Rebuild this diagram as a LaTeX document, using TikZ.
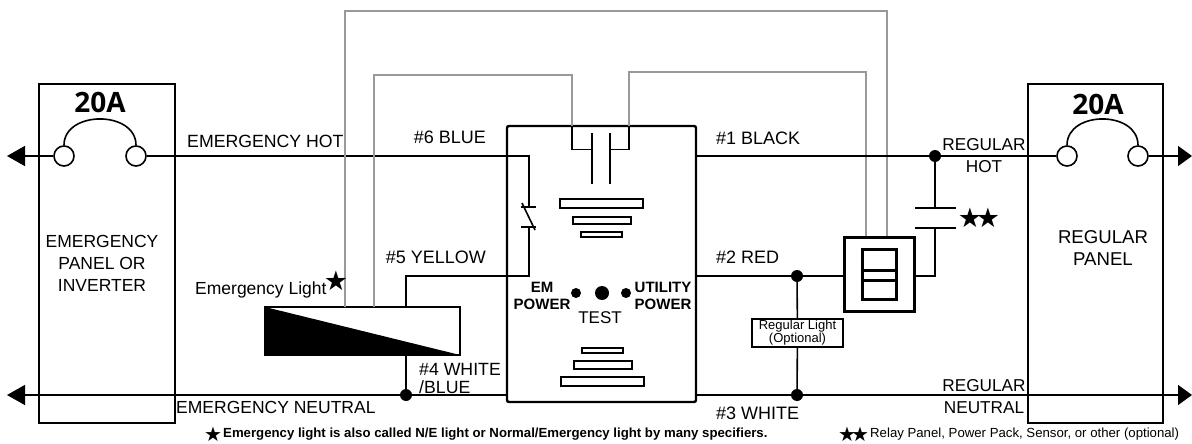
\documentclass[tikz,border=0pt]{standalone}
\usepackage{fontspec}
\setmainfont{Liberation Sans}
\newfontfamily\symfont{DejaVu Sans}
\newfontfamily\ampfont{Open Sans}
\usetikzlibrary{arrows.meta}

\tikzset{
    wire/.style={line width=1.6pt,black},
    relayline/.style={line width=1.6pt,black!40},
    feed/.style={wire,-{Triangle[length=18pt,width=20pt]},shorten >=0pt},
    regfeed/.style={wire,-{Triangle[length=14pt,width=20pt]},shorten >=0pt},
    panel/.style={draw,line width=1.8pt,minimum width=136pt,minimum height=339pt,inner sep=0pt},
    breaker/.style={circle,draw,fill=white,line width=1.6pt,minimum size=20pt,inner sep=0pt},
    junction/.style={circle,fill=black,minimum size=12pt,inner sep=0pt},
    led/.style={circle,fill=black,inner sep=0pt},
    gauge/.style={draw,fill=white,line width=1.5pt,inner sep=0pt},
    lbl/.style={inner sep=0pt,font=\fontsize{17.5}{22}\selectfont,align=center},
    wirelbl/.style={lbl,font=\fontsize{18}{18}\selectfont,align=left},
    amps/.style={inner sep=0pt,font=\ampfont\bfseries\fontsize{28}{28}\selectfont},
    bigstar/.style={inner sep=0pt,font=\symfont\fontsize{27}{27}\selectfont},
    footstar/.style={inner sep=0pt,font=\symfont\fontsize{20}{20}\selectfont},
    foot/.style={inner sep=0pt,font=\fontsize{13.2}{14}\selectfont}
}

\begin{document}
\begin{tikzpicture}[x=1pt,y=-1pt]

    \useasboundingbox (0,0) rectangle (1192,444);

    \node[panel] (empanel) at (107,253.5) {};
    \node[panel,minimum width=135pt] (regpanel) at (1095.5,253.5) {};
    \node[draw,line width=2.4pt,rounded corners=2pt,minimum width=189pt,minimum height=276pt] (switchbox) at (601.5,264) {};

    \coordinate (emhotend) at (7,156);
    \coordinate (emneutend) at (7,395);
    \coordinate (reghotend) at (1192,156);
    \coordinate (regneutend) at (1192,395);
    \coordinate (boxneutl) at (507,395);
    \coordinate (boxneutr) at (696,395);
    \coordinate (boxhotr) at (696,156);
    \coordinate (boxredr) at (696,276);

    \node[breaker] (emfusel) at (64,156) {};
    \node[breaker] (emfuser) at (136,156) {};
    \node[breaker] (regfusel) at (1067,156) {};
    \node[breaker] (regfuser) at (1138,156) {};

    \draw[wire] (emfusel.north) .. controls +(0,-35) and +(0,-35) .. (emfuser.north);
    \draw[wire] (regfusel.north) .. controls +(0,-35) and +(0,-35) .. (regfuser.north);
    \draw[feed] (emfusel) -- (emhotend);
    \draw[regfeed] (regfuser) -- (reghotend);

    \node[draw,line width=2pt,minimum width=195pt,minimum height=48pt,inner sep=0pt] (emlight) at (362.5,331) {};
    \fill[black] (265,307) -- (265,355) -- (460,355) -- cycle;

    \coordinate (swtop) at (529,207);
    \coordinate (swbot) at (529,227);
    \coordinate (hotcorner) at (529,156);
    \coordinate (yelcorner) at (529,276);
    \coordinate (yeldrop) at (406,276);
    \coordinate (yellamp) at (406,307);
    \node[junction] (neutdot) at (406,395) {};
    \coordinate (whitelamp) at (406,355);

    \draw[wire] (emfuser) -- (hotcorner) -- (swtop);
    \draw[wire] (521,207) -- (536,207);
    \draw[wire] (522,203) -- (535,230);
    \draw[wire] (521,227) -- (536,227);
    \draw[wire] (swbot) -- (yelcorner) -- (yeldrop) -- (yellamp);
    \draw[wire] (whitelamp) -- (neutdot);
    \draw[feed,line width=1.4pt] (boxneutl) -- (emneutend);

    \coordinate (relaytopl) at (345,307);
    \coordinate (relaytopr) at (887,236);
    \coordinate (contactl) at (592,149.5);
    \coordinate (contactr) at (610,149.5);
    \coordinate (coilin) at (374,307);
    \coordinate (coilout) at (866,236);

    \draw[relayline] (relaytopl) -- (345,11) -- (887,11) -- (relaytopr);
    \draw[relayline] (coilin) -- (374,75) -- (572,75) -- (572,126);
    \draw[relayline] (629,126) -- (629,72) -- (866,72) -- (coilout);
    \draw[wire] (572,126) -- (572,149.5) -- (contactl);
    \draw[wire] (629,126) -- (629,149.5) -- (contactr);
    \draw[wire] (592,133) -- (592,184);
    \draw[wire] (610,133) -- (610,184);

    \node[gauge,minimum width=83pt,minimum height=9pt] (upbar1) at (601.5,203.5) {};
    \node[gauge,minimum width=58pt,minimum height=7pt] (upbar2) at (602,220.5) {};
    \node[gauge,minimum width=41pt,minimum height=5pt,line width=1.2pt] (upbar3) at (601.5,234.5) {};
    \node[gauge,minimum width=41pt,minimum height=5pt,line width=1.2pt] (lowbar1) at (602.5,350.5) {};
    \node[gauge,minimum width=58pt,minimum height=8pt] (lowbar2) at (603,365) {};
    \node[gauge,minimum width=83pt,minimum height=9pt] (lowbar3) at (602.5,381.5) {};

    \node[led,minimum size=10pt] (emled) at (576,293) {};
    \node[led,minimum size=14pt] (testled) at (602,293) {};
    \node[led,minimum size=10pt] (utilled) at (626,293) {};

    \node[junction] (hotdot) at (935,156) {};
    \node[junction] (reddot) at (797,276) {};
    \node[junction] (whitedot) at (797,395) {};
    \node[draw,line width=3pt,minimum width=70pt,minimum height=74pt,inner sep=0pt] (relaybox) at (879,274) {};
    \node[draw,line width=3pt,minimum width=34pt,minimum height=50pt,inner sep=0pt] (relayface) at (879,274) {};
    \draw[line width=3pt] (relayface.west |- 0,270) -- (relayface.east |- 0,270);
    \draw[line width=3pt] (relayface.west |- 0,280) -- (relayface.east |- 0,280);
    \node[draw,fill=white,line width=1.2pt,minimum width=91pt,minimum height=28pt,inner sep=0pt] (reglight) at (797.5,333) {};

    \coordinate (plateup) at (935,208);
    \coordinate (platelow) at (935,228);
    \coordinate (relayturn) at (935,276);

    \draw[wire] (boxhotr) -- (hotdot) -- (regfusel);
    \draw[wire] (hotdot) -- (plateup);
    \draw[wire] (915,208) -- (956,208);
    \draw[wire] (915,228) -- (956,228);
    \draw[wire] (platelow) -- (relayturn) -- (relaybox.east |- relayturn);
    \draw[wire] (boxredr) -- (reddot) -- (relaybox.west |- reddot);
    \draw[wire] (reddot) -- (reglight);
    \draw[wire] (reglight) -- (whitedot);
    \draw[wire,line width=1.4pt] (boxneutr) -- (whitedot);
    \draw[regfeed,line width=1.4pt] (whitedot) -- (regneutend);

    \node[amps] (emamps) at (100,102) {20A};
    \node[amps] (regamps) at (1098,104) {20A};
    \node[lbl] (emname) at (102,263) {EMERGENCY\\PANEL OR\\INVERTER};
    \node[lbl,font=\fontsize{18.6}{22}\selectfont] (regname) at (1103,248) {REGULAR\\PANEL};
    \node[lbl,anchor=west,font=\fontsize{17.7}{22}\selectfont] (emhot) at (187,141) {EMERGENCY HOT};
    \node[lbl,anchor=west] (emneut) at (176,407) {EMERGENCY NEUTRAL};
    \node[lbl,font=\fontsize{17.2}{22}\selectfont] (reghot) at (984,155.5) {REGULAR\\HOT};
    \node[lbl,font=\fontsize{17.2}{22}\selectfont] (regneut) at (984,397) {REGULAR\\NEUTRAL};
    \node[lbl,anchor=west,font=\fontsize{17.5}{18}\selectfont] (emlightname) at (195,290) {Emergency Light};
    \node[bigstar] (emstar) at (336,281) {\makebox[12pt]{★}};
    \node[bigstar] (regstara) at (970,218) {★};
    \node[bigstar] (regstarb) at (988,218) {★};

    \node[wirelbl,anchor=east] (blue) at (486,137) {\#6 BLUE};
    \node[wirelbl,anchor=east] (yellow) at (486,257) {\#5 YELLOW};
    \node[wirelbl,anchor=west] (black) at (716,138) {\#1 BLACK};
    \node[wirelbl,anchor=west] (red) at (716,257) {\#2 RED};
    \node[wirelbl,anchor=west] (white) at (716,413) {\#3 WHITE};
    \node[wirelbl,anchor=west,font=\fontsize{17.7}{18}\selectfont] (whiteblue) at (419,378) {\#4 WHITE\\/BLUE};

    \node[lbl,font=\bfseries\fontsize{15}{17.5}\selectfont] (emtag) at (542,296) {EM\\POWER};
    \node[lbl,font=\bfseries\fontsize{15}{17.5}\selectfont] (utiltag) at (663,296) {UTILITY\\POWER};
    \node[lbl,font=\fontsize{17}{18}\selectfont] (testtag) at (600,318) {TEST};
    \node[lbl,font=\fontsize{13}{13}\selectfont] (lighttag) at (797.5,332.5) {Regular Light\\(Optional)};

    \node[footstar] (footstarem) at (213,434) {★};
    \node[foot,anchor=west,font=\bfseries\fontsize{13.2}{14}\selectfont] (footem) at (223,434) {Emergency light is also called N/E light or Normal/Emergency light by many specifiers.};
    \node[footstar] (footstara) at (847,434) {★};
    \node[footstar] (footstarb) at (860,434) {★};
    \node[foot,anchor=west] (footreg) at (870,434) {Relay Panel, Power Pack, Sensor, or other (optional)};

\end{tikzpicture}
\end{document}
